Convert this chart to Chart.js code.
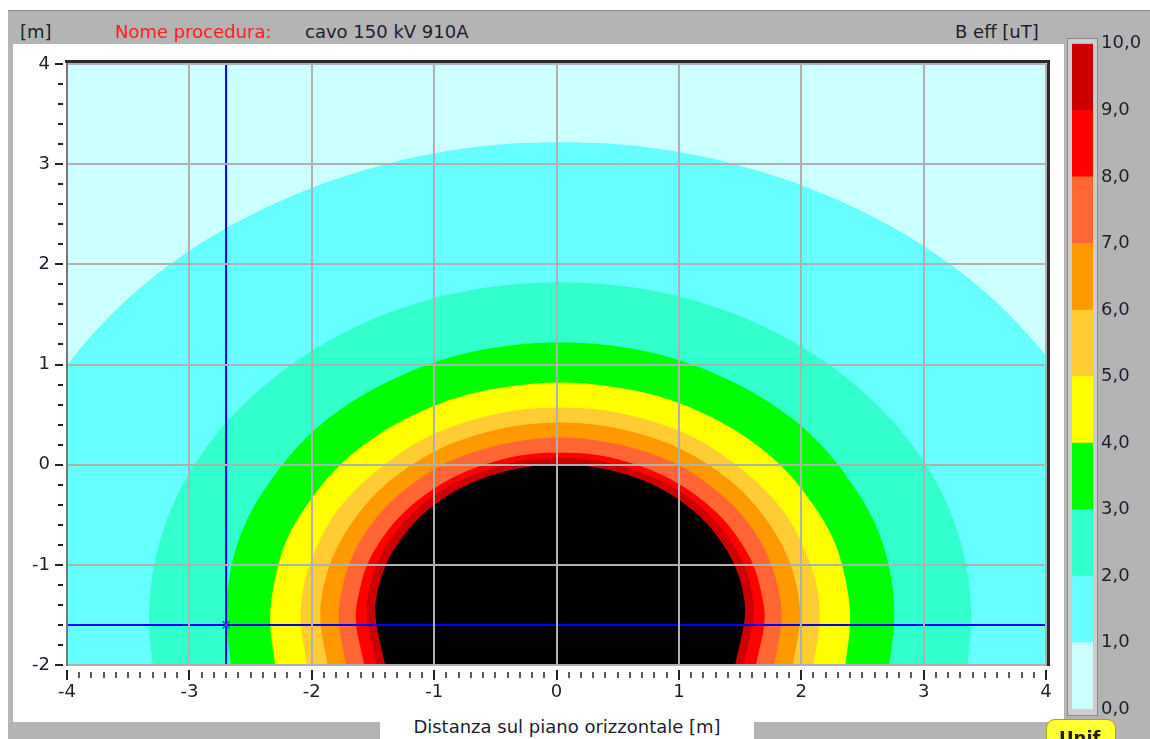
<!DOCTYPE html>
<html lang="it">
<head>
<meta charset="utf-8">
<title>B eff - cavo 150 kV 910A</title>
<script src="https://cdn.jsdelivr.net/npm/chart.js@4.4.1/dist/chart.umd.min.js"></script>
<style>
    html, body { margin: 0; padding: 0; }
    body {
        width: 1150px; height: 739px; overflow: hidden; position: relative;
        background: #fff; color: #1e1e30;
        font-family: 'DejaVu Sans', sans-serif; font-size: 18px;
    }
    #cornice { position: absolute; left: 8px; top: 10px; right: 0; bottom: 0; background: #b4b4b4; border-top: 1px solid #8c8c8c; }
    #pannello { position: absolute; left: 13px; top: 44px; width: 1051px; height: 678px; background: #fff; }
    .intest { position: absolute; top: 21px; line-height: 21px; white-space: nowrap; }
    #campo { position: absolute; left: 13px; top: 44px; }
    #titoloX {
        position: absolute; left: 380px; top: 712px; width: 374px; height: 27px;
        background: #fff; text-align: center; line-height: 21px; padding-top: 4px; box-sizing: border-box;
    }
    #telaioScala {
        position: absolute; left: 1067px; top: 38px; width: 31px; height: 678px;
        background: #cdcdcd; border: 1px solid #8a8a8a; box-sizing: border-box;
    }
    #scala { position: absolute; left: 1066px; top: 25px; }
    #unif {
        position: absolute; left: 1046px; top: 719px; width: 70px; height: 30px; box-sizing: border-box;
        background: #ffff33; border: 1px solid #a8a800; border-radius: 9px;
        font-weight: bold; padding: 7px 0 0 12px; line-height: 21px; color: #1e1e30;
    }
</style>
</head>
<body>
<div id="cornice"></div>
<div id="pannello"></div>
<div class="intest" style="left:20px">[m]</div>
<div class="intest" style="left:115px;color:#ff2020">Nome procedura:</div>
<div class="intest" style="left:305px">cavo 150 kV 910A</div>
<div class="intest" style="left:955px">B eff [uT]</div>
<canvas id="campo" width="1051" height="678"></canvas>
<div id="titoloX">Distanza sul piano orizzontale [m]</div>
<div id="telaioScala"></div>
<canvas id="scala" width="84" height="703"></canvas>
<div id="unif">Unif</div>

<script>
// Soglie di B eff [uT]: ogni fascia colora la zona in cui il campo supera la soglia
const livelli = [1, 2, 3, 4, 5, 6, 7, 8, 9, 10];
const coloriLivelli = ['#66ffff', '#33ffcc', '#00ff00', '#ffff00', '#ffcc33', '#ff9900', '#ff6633', '#ff0000', '#cc0000', '#000000'];

// Scala colori laterale
const scalaTicks = [0, 1, 2, 3, 4, 5, 6, 7, 8, 9, 10];
const scalaColori = ['#ccffff', '#66ffff', '#33ffcc', '#00ff00', '#ffff00', '#ffcc33', '#ff9900', '#ff6633', '#ff0000', '#cc0000'];

// Finestra di calcolo [m]
const limitiX = [-4, 4];
const limitiY = [-2, 4];

// Cursore
const cursoreX = -2.7;
const cursoreY = -1.6;

// Contorni delle isolinee (x, y in metri), da sinistra a destra
const contornoX = [
    [-4.71, -4.73, -4.66, -4.44, -4.09, -3.62, -3.03, -2.35, -1.60, -0.80, 0.03, 0.86, 1.66, 2.41, 3.09, 3.68, 4.15, 4.50, 4.72, 4.79, 4.77],
    [-3.30, -3.33, -3.28, -3.13, -2.88, -2.54, -2.13, -1.65, -1.12, -0.55, 0.03, 0.61, 1.18, 1.71, 2.19, 2.60, 2.94, 3.19, 3.34, 3.39, 3.36],
    [-2.66, -2.70, -2.66, -2.54, -2.33, -2.06, -1.73, -1.34, -0.90, -0.44, 0.03, 0.50, 0.96, 1.40, 1.79, 2.12, 2.39, 2.60, 2.72, 2.76, 2.72],
    [-2.30, -2.34, -2.30, -2.20, -2.02, -1.79, -1.49, -1.16, -0.78, -0.38, 0.03, 0.44, 0.84, 1.22, 1.55, 1.85, 2.08, 2.26, 2.36, 2.40, 2.36],
    [-2.04, -2.09, -2.06, -1.96, -1.81, -1.59, -1.33, -1.03, -0.70, -0.34, 0.03, 0.40, 0.76, 1.09, 1.39, 1.65, 1.87, 2.02, 2.12, 2.15, 2.10],
    [-1.87, -1.93, -1.90, -1.81, -1.66, -1.47, -1.23, -0.95, -0.64, -0.31, 0.03, 0.37, 0.70, 1.01, 1.29, 1.53, 1.72, 1.87, 1.96, 1.99, 1.93],
    [-1.72, -1.78, -1.75, -1.67, -1.54, -1.36, -1.13, -0.88, -0.59, -0.28, 0.03, 0.34, 0.65, 0.94, 1.19, 1.42, 1.60, 1.73, 1.81, 1.84, 1.78],
    [-1.57, -1.64, -1.61, -1.54, -1.41, -1.25, -1.04, -0.80, -0.54, -0.26, 0.03, 0.32, 0.60, 0.86, 1.10, 1.31, 1.47, 1.60, 1.67, 1.70, 1.63],
    [-1.47, -1.55, -1.53, -1.46, -1.34, -1.18, -0.99, -0.76, -0.51, -0.24, 0.03, 0.30, 0.57, 0.82, 1.05, 1.24, 1.40, 1.52, 1.59, 1.61, 1.53],
    [-1.40, -1.48, -1.46, -1.39, -1.28, -1.13, -0.94, -0.73, -0.49, -0.23, 0.03, 0.29, 0.55, 0.79, 1.00, 1.19, 1.34, 1.45, 1.52, 1.54, 1.46]
];
const contornoY = [
    [-2, -1.54, -0.71, 0.09, 0.84, 1.52, 2.11, 2.58, 2.93, 3.15, 3.22, 3.15, 2.93, 2.58, 2.11, 1.52, 0.84, 0.09, -0.71, -1.54, -2],
    [-2, -1.54, -0.96, -0.39, 0.14, 0.62, 1.03, 1.37, 1.62, 1.77, 1.82, 1.77, 1.62, 1.37, 1.03, 0.62, 0.14, -0.39, -0.96, -1.54, -2],
    [-2, -1.51, -1.04, -0.58, -0.15, 0.25, 0.58, 0.85, 1.06, 1.18, 1.22, 1.18, 1.06, 0.85, 0.58, 0.25, -0.15, -0.58, -1.04, -1.51, -2],
    [-2, -1.55, -1.14, -0.74, -0.37, -0.03, 0.27, 0.50, 0.68, 0.78, 0.82, 0.78, 0.68, 0.50, 0.27, -0.03, -0.37, -0.74, -1.14, -1.55, -2],
    [-2, -1.55, -1.18, -0.83, -0.49, -0.19, 0.07, 0.29, 0.44, 0.54, 0.57, 0.54, 0.44, 0.29, 0.07, -0.19, -0.49, -0.83, -1.18, -1.55, -2],
    [-2, -1.54, -1.20, -0.87, -0.56, -0.28, -0.04, 0.16, 0.30, 0.39, 0.42, 0.39, 0.30, 0.16, -0.04, -0.28, -0.56, -0.87, -1.20, -1.54, -2],
    [-2, -1.54, -1.23, -0.92, -0.64, -0.38, -0.15, 0.03, 0.16, 0.24, 0.27, 0.24, 0.16, 0.03, -0.15, -0.38, -0.64, -0.92, -1.23, -1.54, -2],
    [-2, -1.55, -1.26, -0.98, -0.71, -0.48, -0.27, -0.10, 0.02, 0.10, 0.12, 0.10, 0.02, -0.10, -0.27, -0.48, -0.71, -0.98, -1.26, -1.55, -2],
    [-2, -1.51, -1.24, -0.97, -0.72, -0.49, -0.30, -0.14, -0.03, 0.05, 0.07, 0.05, -0.03, -0.14, -0.30, -0.49, -0.72, -0.97, -1.24, -1.51, -2],
    [-2, -1.51, -1.25, -0.99, -0.76, -0.54, -0.35, -0.20, -0.09, -0.02, 0.00, -0.02, -0.09, -0.20, -0.35, -0.54, -0.76, -0.99, -1.25, -1.51, -2]
];

(function (Chart) {
    'use strict';

    const inchiostro = '#1e1e30';
    const griglia = '#b0b0b0';
    const intero = v => Math.abs(v - Math.round(v)) < 1e-6;
    const tickIntero = c => c.tick && intero(c.tick.value);

    Chart.defaults.font.family = "'DejaVu Sans', sans-serif";
    Chart.defaults.font.size = 18;
    Chart.defaults.color = inchiostro;

    // Sfondo azzurro chiaro (B < 1 uT) sotto tutte le fasce
    const sfondoCampo = {
        id: 'sfondoCampo',
        beforeDraw(chart) {
            const { ctx, chartArea: a } = chart;
            ctx.save();
            ctx.fillStyle = scalaColori[0];
            ctx.fillRect(a.left, a.top, a.width, a.height);
            ctx.restore();
        }
    };

    // Bordo scuro in alto e a destra
    const bordoCampo = {
        id: 'bordoCampo',
        afterDraw(chart) {
            const { ctx, chartArea: a } = chart;
            ctx.save();
            ctx.strokeStyle = '#2a2a2a';
            ctx.lineWidth = 3;
            ctx.beginPath();
            ctx.moveTo(a.left - 2, a.top - 2.5);
            ctx.lineTo(a.right + 2.5, a.top - 2.5);
            ctx.lineTo(a.right + 2.5, a.bottom + 1);
            ctx.stroke();
            ctx.restore();
        }
    };

    // Una fascia piena per ogni soglia, le più alte disegnate sopra
    const fasce = livelli.map((liv, i) => ({
        label: 'B > ' + liv,
        data: contornoX[i].map((x, j) => ({ x: x, y: contornoY[i][j] })),
        backgroundColor: coloriLivelli[i],
        borderColor: 'transparent',
        borderWidth: 0,
        pointRadius: 0,
        fill: 'shape',
        tension: 0.35,
        clip: 0,
        order: 100 - liv
    }));

    const lineaCursore = (punti) => ({
        data: punti,
        borderColor: '#0000ff',
        borderWidth: 2,
        pointRadius: 0,
        fill: false,
        tension: 0,
        order: 1
    });

    const datasets = fasce.concat([
        lineaCursore([{ x: cursoreX, y: limitiY[0] }, { x: cursoreX, y: limitiY[1] }]),
        lineaCursore([{ x: limitiX[0], y: cursoreY }, { x: limitiX[1], y: cursoreY }]),
        {
            data: [{ x: cursoreX, y: cursoreY }],
            showLine: false,
            pointStyle: 'crossRot',
            pointRadius: 5,
            pointBorderWidth: 1.5,
            pointBorderColor: '#2060c0',
            order: 0
        }
    ]);

    new Chart(document.getElementById('campo'), {
        type: 'line',
        data: { datasets: datasets },
        options: {
            responsive: false,
            animation: false,
            events: [],
            layout: { padding: { top: 20, right: 18, left: 0, bottom: 0 } },
            elements: { line: { capBezierPoints: false } },
            plugins: { legend: { display: false }, tooltip: { enabled: false } },
            scales: {
                x: {
                    type: 'linear',
                    min: limitiX[0],
                    max: limitiX[1],
                    afterFit: s => { s.height = 57; },
                    ticks: {
                        stepSize: 0.1, maxTicksLimit: 200, autoSkip: false, maxRotation: 0, padding: 2,
                        callback: v => intero(v) ? String(Math.round(v)) : ''
                    },
                    grid: {
                        z: 1,
                        color: c => tickIntero(c) ? griglia : 'transparent',
                        lineWidth: 2,
                        tickLength: 15,
                        tickColor: '#222',
                        tickWidth: c => tickIntero(c) ? 2 : 1.5,
                        tickBorderDash: c => tickIntero(c) ? [0, 4, 11, 60] : [0, 6, 6, 60]
                    },
                    border: { z: 1, color: '#9a9a9a', width: 2 }
                },
                y: {
                    type: 'linear',
                    min: limitiY[0],
                    max: limitiY[1],
                    afterFit: s => { s.width = 54; },
                    ticks: {
                        stepSize: 0.2, maxTicksLimit: 200, autoSkip: false, padding: 5,
                        callback: v => intero(v) ? String(Math.round(v)) : ''
                    },
                    grid: {
                        z: 1,
                        color: c => tickIntero(c) ? griglia : 'transparent',
                        lineWidth: 2,
                        tickLength: 12,
                        tickColor: '#222',
                        tickWidth: 2,
                        tickBorderDash: c => tickIntero(c) ? [8, 60] : [0, 3, 5, 60]
                    },
                    border: { z: 1, color: '#777', width: 2 }
                }
            }
        },
        plugins: [sfondoCampo, bordoCampo]
    });

    // Scala colori: una barra impilata con una fascia per intervallo
    new Chart(document.getElementById('scala'), {
        type: 'bar',
        data: {
            labels: ['B eff'],
            datasets: scalaColori.map((col, i) => ({
                data: [scalaTicks[i + 1] - scalaTicks[i]],
                backgroundColor: col,
                borderWidth: 0,
                barPercentage: 1,
                categoryPercentage: 1
            }))
        },
        options: {
            responsive: false,
            animation: false,
            events: [],
            layout: { padding: { left: 6, top: 0, bottom: 0, right: 0 } },
            plugins: { legend: { display: false }, tooltip: { enabled: false } },
            scales: {
                x: { display: false, stacked: true },
                y: {
                    stacked: true,
                    position: 'right',
                    min: scalaTicks[0],
                    max: scalaTicks[scalaTicks.length - 1],
                    afterFit: s => { s.width = 57; },
                    grid: { display: false, drawTicks: false },
                    border: { display: false },
                    ticks: {
                        stepSize: 1, padding: 8,
                        callback: v => v.toFixed(1).replace('.', ',')
                    }
                }
            }
        }
    });
})(Chart);
</script>
</body>
</html>
